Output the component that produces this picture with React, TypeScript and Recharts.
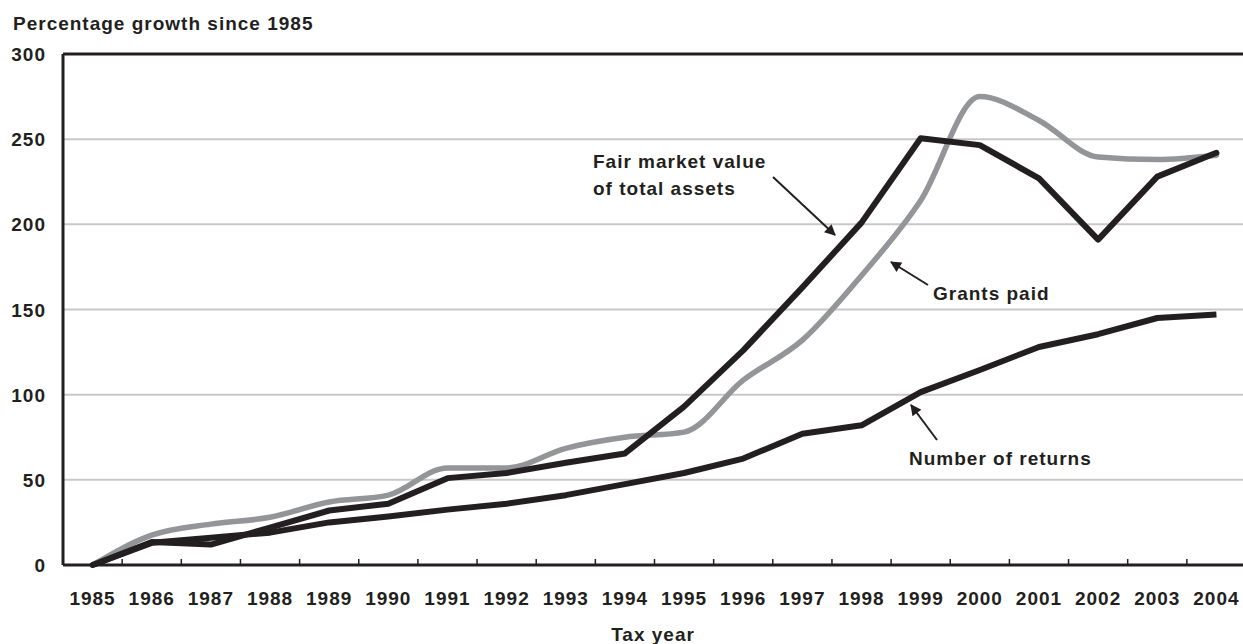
import React from 'react'
import {
  LineChart, Line, XAxis, YAxis, CartesianGrid, ReferenceLine
} from 'recharts'

const years = ['1985', '1986', '1987', '1988', '1989', '1990', '1991', '1992', '1993', '1994',
  '1995', '1996', '1997', '1998', '1999', '2000', '2001', '2002', '2003', '2004']

// percentage growth since 1985
const fairMarketValue = [0, 13.5, 12, 22, 32, 36, 51, 54, 60, 65.5, 93, 126, 163, 201, 250.5, 246.5, 227, 191, 228, 242]
const grantsPaid = [0, 17.5, 24, 28, 37, 41, 57, 57, 68.5, 75, 78, 108.5, 132, 170, 214, 275, 261, 239.5, 238, 240.5]
const numberOfReturns = [0, 13, 16, 19, 25, 28.5, 32.5, 36, 41, 47.5, 54, 62.5, 77, 82, 101.5, 114.5, 128, 135.5, 145, 147]

const yTicks = [0, 50, 100, 150, 200, 250, 300]

const data = years.map((year, i) => ({
  year,
  fmv: fairMarketValue[i],
  grants: grantsPaid[i],
  returns: numberOfReturns[i]
}))

const DARK = '#231f20'
const GRAY = '#939598'
const FONT = '"Liberation Sans", Arial, sans-serif'
const HALF_BAND = 59.15 / 2

const textStyle = {
  fontFamily: FONT,
  fontWeight: 700,
  fontSize: 19,
  letterSpacing: 1,
  fill: DARK
}

const XTick = ({ x, payload, index }: any) => (
  <g>
    {index < years.length - 1 && (
      <line x1={x + HALF_BAND} x2={x + HALF_BAND} y1={565} y2={559} stroke={DARK} strokeWidth={1.5} />
    )}
    <text x={x} y={605} textAnchor="middle" style={textStyle}>{payload.value}</text>
  </g>
)

const YTick = ({ y, payload }: any) => (
  <text x={46} y={y + 7} textAnchor="end" style={textStyle}>{payload.value}</text>
)

export default function App() {
  return (
    <div style={{ position: 'absolute', left: 0, top: 0, width: 1243, height: 644, overflow: 'hidden', background: '#fff' }}>
      <LineChart width={1246} height={644} data={data} margin={{ top: 54, right: 0, bottom: 0, left: 0 }}>
        <CartesianGrid vertical={false} stroke="#c8c8c8" strokeWidth={2} />
        <XAxis
          dataKey="year"
          height={79}
          padding={{ left: HALF_BAND, right: HALF_BAND }}
          axisLine={{ stroke: DARK, strokeWidth: 3 }}
          tickLine={false}
          interval={0}
          tick={<XTick />}
        />
        <YAxis
          width={63}
          domain={[0, 300]}
          ticks={yTicks}
          axisLine={{ stroke: DARK, strokeWidth: 3 }}
          tickLine={false}
          tick={<YTick />}
        />
        <ReferenceLine y={300} stroke={DARK} strokeWidth={3} />
        <Line
          dataKey="returns"
          type="linear"
          stroke={DARK}
          strokeWidth={6}
          strokeLinejoin="round"
          dot={false}
          activeDot={false}
          isAnimationActive={false}
        />
        <Line
          dataKey="grants"
          type="monotone"
          stroke={GRAY}
          strokeWidth={5.5}
          strokeLinejoin="round"
          strokeLinecap="round"
          dot={false}
          activeDot={false}
          isAnimationActive={false}
        />
        <Line
          dataKey="fmv"
          type="linear"
          stroke={DARK}
          strokeWidth={6}
          strokeLinejoin="round"
          strokeLinecap="round"
          dot={false}
          activeDot={false}
          isAnimationActive={false}
        />
      </LineChart>

      {/* titles and annotations */}
      <svg width={1243} height={644} style={{ position: 'absolute', left: 0, top: 0, pointerEvents: 'none' }}>
        <defs>
          <marker id="head" viewBox="0 0 10 10" refX="9" refY="5" markerWidth="6" markerHeight="5.5" orient="auto" markerUnits="strokeWidth">
            <path d="M0,0 L10,5 L0,10 z" fill={DARK} />
          </marker>
        </defs>
        <text x={13} y={30} style={textStyle}>Percentage growth since 1985</text>
        <text x={653} y={641} textAnchor="middle" style={textStyle}>Tax year</text>

        <text x={593} y={168} style={textStyle}>Fair market value</text>
        <text x={593} y={195} style={textStyle}>of total assets</text>
        <line x1={773} y1={177} x2={835} y2={235} stroke={DARK} strokeWidth={2} markerEnd="url(#head)" />

        <text x={933} y={300} style={textStyle}>Grants paid</text>
        <line x1={928} y1={285} x2={891} y2={262} stroke={DARK} strokeWidth={2} markerEnd="url(#head)" />

        <text x={909} y={465} style={textStyle}>Number of returns</text>
        <line x1={937} y1={440} x2={911} y2={405} stroke={DARK} strokeWidth={2} markerEnd="url(#head)" />
      </svg>
    </div>
  )
}
